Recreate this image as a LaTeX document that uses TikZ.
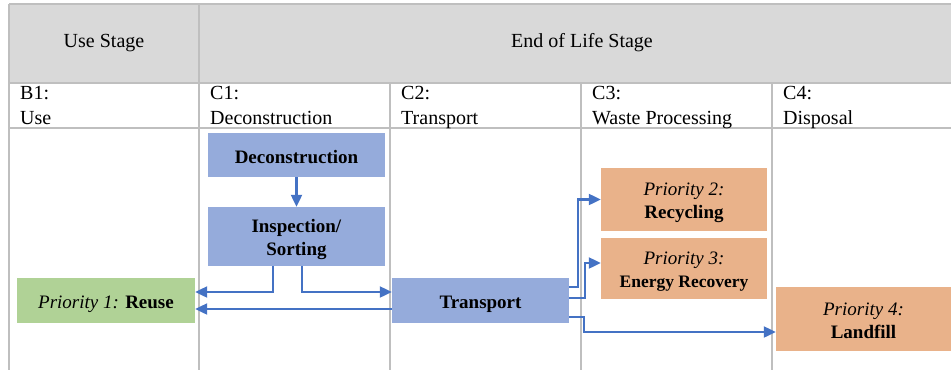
\documentclass[tikz,border=0pt]{standalone}
\usepackage{fontspec}
\setmainfont{Liberation Serif}
\usetikzlibrary{arrows.meta}
\definecolor{hdrgray}{RGB}{217,217,217}
\definecolor{gridgray}{RGB}{191,191,191}
\definecolor{boxblue}{RGB}{149,171,219}
\definecolor{boxgreen}{RGB}{176,210,150}
\definecolor{boxorange}{RGB}{233,178,138}
\definecolor{linkblue}{RGB}{68,114,196}
\tikzset{
  grid/.style={draw=gridgray, line width=1.5pt},
  box/.style={inner sep=0pt, align=center, font=\fontsize{19}{23}\selectfont},
  oneline/.style={text height=19pt, text depth=3pt},
  twoline/.style={text height=42.6pt, text depth=4pt},
  bluebox/.style={box, fill=boxblue},
  greenbox/.style={box, fill=boxgreen},
  orangebox/.style={box, fill=boxorange},
  conn/.style={draw=linkblue, line width=2.2pt, -{Triangle[length=12pt,width=11pt]}},
  hdr/.style={inner sep=0pt, font=\fontsize{20}{24}\selectfont},
  cell/.style={inner sep=0pt, anchor=base west, align=left, font=\fontsize{20}{25}\selectfont}
}
\begin{document}
\begin{tikzpicture}[x=1pt,y=-1pt]
\useasboundingbox (0,0) rectangle (951,370);
% header fill
\fill[hdrgray] (9,4) rectangle (951,83);
% grid
\draw[grid] (9,4) -- (951,4);
\draw[grid] (9,83) -- (951,83);
\draw[grid] (9,128) -- (951,128);
\draw[grid] (9,4) -- (9,370);
\draw[grid] (199,4) -- (199,370);
\draw[grid] (390,83) -- (390,370);
\draw[grid] (581,83) -- (581,370);
\draw[grid] (772,83) -- (772,370);
% header texts
\node[hdr] (usestage) at (104,43) {Use Stage};
\node[hdr] (eolstage) at (582,43) {End of Life Stage};
\node[cell] (b1) at (20,124) {B1:\\Use};
\node[cell] (c1) at (210,124) {C1:\\Deconstruction};
\node[cell] (c2) at (401,124) {C2:\\Transport};
\node[cell] (c3) at (592,124) {C3:\\Waste Processing};
\node[cell] (c4) at (783,124) {C4:\\Disposal};
% boxes
\node[bluebox, oneline, minimum width=177pt, minimum height=44pt] (decon) at (296.5,155) {\textbf{Deconstruction}};
\node[bluebox, twoline, minimum width=177pt, minimum height=59pt] (insp) at (296.5,236.5) {\textbf{Inspection/}\\\textbf{Sorting}};
\node[bluebox, oneline, minimum width=177pt, minimum height=45pt] (trans) at (480.5,300.5) {\textbf{Transport}};
\node[greenbox, oneline, minimum width=178pt, minimum height=45pt] (reuse) at (106,300.5) {\textit{Priority 1:} \textbf{Reuse}};
\node[orangebox, twoline, minimum width=166pt, minimum height=63pt] (recyc) at (684,199.5) {\textit{Priority 2:}\\\textbf{Recycling}};
\node[orangebox, twoline, minimum width=166pt, minimum height=61pt] (energy) at (684,268.5) {\textit{Priority 3:}\\\textbf{\fontsize{17.5}{23}\selectfont Energy Recovery}};
\node[orangebox, twoline, minimum width=175pt, minimum height=64pt] (landfill) at (863.5,319) {\textit{Priority 4:}\\\textbf{Landfill}};
% connectors
\draw[conn] (decon) -- (insp);
\draw[conn] ([xshift=-23.5pt]insp.south) |- ([yshift=8.5pt]reuse.east);
\draw[conn] ([xshift=5.5pt]insp.south) |- ([yshift=8.5pt]trans.west);
\draw[conn] ([yshift=-8.5pt]trans.west) -- ([yshift=-8.5pt]reuse.east);
\draw[conn] ([yshift=13.5pt]trans.east) -- ++(9,0) |- (recyc.west);
\draw[conn] ([yshift=2.5pt]trans.east) -- ++(16,0) |- ([yshift=5.5pt]energy.west);
\draw[conn] ([yshift=-16.5pt]trans.east) -- ++(15,0) |- ([yshift=-13pt]landfill.west);
\end{tikzpicture}
\end{document}
